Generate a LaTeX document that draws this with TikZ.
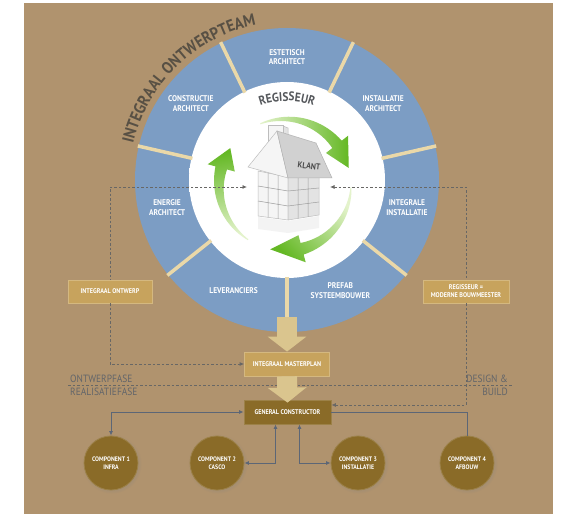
\documentclass[tikz,border=0pt]{standalone}
\usepackage{fontspec}
\setmainfont{PT Sans}[FakeStretch=0.9]
\usetikzlibrary{arrows.meta,decorations.text,shadows}

\definecolor{bgbrown}{RGB}{176,147,110}
\definecolor{ringblue}{RGB}{124,157,196}
\definecolor{spokecream}{RGB}{234,216,168}
\definecolor{boxgold}{RGB}{199,163,93}
\definecolor{boxedge}{RGB}{212,184,128}
\definecolor{darkgold}{RGB}{138,107,40}
\definecolor{arrowbeige}{RGB}{218,197,142}
\definecolor{dashgray}{RGB}{104,103,101}
\definecolor{linkgray}{RGB}{92,102,118}
\definecolor{phasegray}{RGB}{98,101,106}
\definecolor{teamgray}{RGB}{88,80,68}
\definecolor{regiegray}{RGB}{85,88,92}
\definecolor{leafgreen}{RGB}{100,184,36}
\definecolor{leafpale}{RGB}{228,243,204}

\pgfdeclareradialshading{innerdisc}{\pgfpoint{0bp}{0bp}}{color(0bp)=(white); color(31bp)=(white); color(34bp)=(white!95!black); color(35.4bp)=(white!90!black); color(50bp)=(white!90!black)}

% tapered circular arrow: tail angle, neck angle, tip angle, shading angle
\newcommand\cyclearrow[4]{%
  \shade[top color=leafgreen, bottom color=leafpale, shading angle=#4]
    plot[domain=#1:#2, samples=25, variable=\t] (\t:{66.5+5.5*(\t-#1)/(#2-#1)})
    -- (#2:80) -- (#3:66) -- (#2:52)
    -- plot[domain=#2:#1, samples=25, variable=\t] (\t:{65.5-5.5*(\t-#1)/(#2-#1)})
    -- cycle;}

\begin{document}
\begin{tikzpicture}[x=1pt,y=1pt,
  ringlabel/.style={text=white, font=\bfseries\fontsize{8.3}{9.8}\selectfont, align=center, inner sep=0pt},
  spoke/.style={spokecream, line width=3.5pt},
  goldbox/.style={fill=boxgold, draw=boxedge, line width=0.8pt, text=white,
    font=\bfseries\fontsize{6.8}{8}\selectfont, align=center,
    minimum width=84pt, minimum height=23pt, inner sep=0pt},
  darkbox/.style={goldbox, fill=darkgold, draw=darkgold!85!white, minimum width=87pt, minimum height=24pt},
  component/.style={circle, fill=darkgold, draw=darkgold!85!white, line width=0.8pt,
    minimum size=54pt, inner sep=0pt, text=white, align=center,
    font=\bfseries\fontsize{6.5}{8.5}\selectfont,
    circular drop shadow={shadow xshift=0.8pt, shadow yshift=-0.8pt, opacity=0.25}},
  bigarrow/.style={arrowbeige, line width=20pt, -{Triangle[width=38pt,length=15pt]}},
  dashlink/.style={dashgray, line width=0.8pt, dash pattern=on 2.5pt off 2pt,
    >={Latex[length=4.5pt,width=4pt]}},
  solidlink/.style={linkgray, line width=0.9pt, >={Latex[length=4.5pt,width=4pt]}},
  phase/.style={text=phasegray, font=\fontsize{10.5}{11}\selectfont, inner sep=0pt},
  housefront/.style={fill=white!96!black, draw=white!74!black, line width=0.5pt},
  houseside/.style={fill=white!89!black, draw=white!74!black, line width=0.5pt},
  houseroof/.style={fill=white!82!black, draw=white!70!black, line width=0.5pt},
  housegrid/.style={white!62!black, line width=0.5pt}]

\useasboundingbox (0,0) rectangle (565,-518);
\fill[bgbrown] (24,-3) rectangle (553,-514);

\coordinate (c) at (287,-180);
\coordinate (hc) at (285,-185);

% ring of team members
\fill[ringblue] (c) circle[radius=152];
\shade[shading=innerdisc] (c) circle[radius=98];
\foreach \k in {0,...,6}
  \draw[spoke] ([shift={({270+\k*360/7}:97)}]c) -- ([shift={({270+\k*360/7}:153)}]c);
\foreach \txt [count=\k from 0] in {ESTETISCH\\ARCHITECT, INSTALLATIE\\ARCHITECT,
    INTEGRALE\\INSTALLATIE, PREFAB\\SYSTEEMBOUWER, LEVERANCIERS,
    ENERGIE\\ARCHITECT, CONSTRUCTIE\\ARCHITECT}
  \node[ringlabel] (seg\k) at ([shift={({90-\k*360/7}:123)}]c) {\txt};

\path[decorate, decoration={text along path, text color=teamgray, text align=center,
    text={|\bfseries\fontsize{16.5}{16.5}\selectfont|INTEGRAAL ONTWERPTEAM}}]
  ([shift={(178:158)}]c) arc[start angle=178, end angle=90, radius=158];
\path[decorate, decoration={text along path, text color=regiegray, text align=center,
    text={|\bfseries\fontsize{12.5}{12.5}\selectfont|REGISSEUR}}]
  ([shift={(130:79)}]c) arc[start angle=130, end angle=50, radius=79];

% green cycle
\begin{scope}[shift={(hc)}]
  \cyclearrow{112}{38}{15}{-90}
  \cyclearrow{358}{285}{257}{135}
  \cyclearrow{236}{165}{146}{10}
\end{scope}

% house
\fill[white!92!black, opacity=0.6] (258,-217) -- (288,-221) -- (319,-216) -- (319,-228) -- (288,-233) -- (258,-229) -- cycle;
\filldraw[houseside] (283,-126) -- (288,-128) -- (288,-142) -- (283,-146) -- cycle;
\filldraw[housefront] (268,-125) rectangle (283,-146);
\filldraw[housefront] (258,-171) -- (288,-177) -- (288,-220) -- (258,-216) -- cycle;
\filldraw[houseside] (288,-177) -- (319,-175) -- (319,-215) -- (288,-220) -- cycle;
\draw[housegrid] (268,-173) -- (268,-217.5) (278,-175) -- (278,-219)
  (298,-176.5) -- (298,-218.5) (308,-176) -- (308,-217)
  (258,-186) -- (288,-191) -- (319,-188) (258,-201) -- (288,-206) -- (319,-202);
\filldraw[housefront] (248,-167) -- (277,-131) -- (288,-178) -- cycle;
\filldraw[houseroof] (277,-131) -- (316,-143) -- (332,-178) -- (288,-178) -- cycle;
\node[rotate=-7, text=black!70, font=\bfseries\fontsize{8.5}{8.5}\selectfont] (klant) at (309,-166) {KLANT};

\coordinate (hl) at (247,-187);
\coordinate (hr) at (330,-187);

% boxes
\node[goldbox] (ontwerp) at (110,-291.5) {INTEGRAAL ONTWERP};
\node[goldbox, minimum width=86pt] (regie) at (466,-291.5) {REGISSEUR =\\MODERNE BOUWMEESTER};
\node[goldbox, minimum width=85pt, minimum height=24pt] (plan) at (287,-364) {INTEGRAAL MASTERPLAN};
\node[darkbox] (gc) at (287.5,-412) {GENERAL CONSTRUCTOR};

\node[component] (c1) at (111,-463) {COMPONENT 1\\INFRA};
\node[component] (c2) at (217,-463) {COMPONENT 2\\CASCO};
\node[component] (c3) at (358,-463) {COMPONENT 3\\INSTALLATIE};
\node[component] (c4) at (467,-463) {COMPONENT 4\\AFBOUW};

% phases
\coordinate (pl) at (68,-385);
\coordinate (pr) at (512,-385);
\draw[dashlink] (pl) -- (pr);
\node[phase, anchor=base west] (ontwfase) at (70,-382.5) {ONTWERPFASE};
\node[phase, anchor=base west] (realfase) at (70,-396) {REALISATIEFASE};
\node[phase, anchor=base east] (design) at (508,-382.5) {DESIGN \&};
\node[phase, anchor=base east] (build) at (508,-396) {BUILD};

% dashed feedback lines
\draw[dashlink, <-] (hl) -| (ontwerp.north);
\draw[dashlink, ->] (ontwerp.south) |- (plan.west);
\draw[dashlink, <-] (hr) -| (regie.north);
\draw[dashlink, ->] (regie.south) |- ([yshift=7pt]gc.east);

% main flow
\coordinate (ringout) at (287,-317);
\draw[bigarrow] (ringout) -- (plan.north);
\draw[bigarrow] (plan.south) -- ([yshift=-3pt]gc.north);

% components
\draw[solidlink, <->] (gc.west) -| (c1.north);
\draw[solidlink, <->] ([xshift=-12pt]gc.south) |- (c2.east);
\draw[solidlink, <->] ([xshift=12pt]gc.south) |- (c3.west);
\draw[solidlink] (gc.east) -| (c4.north);
\end{tikzpicture}
\end{document}
